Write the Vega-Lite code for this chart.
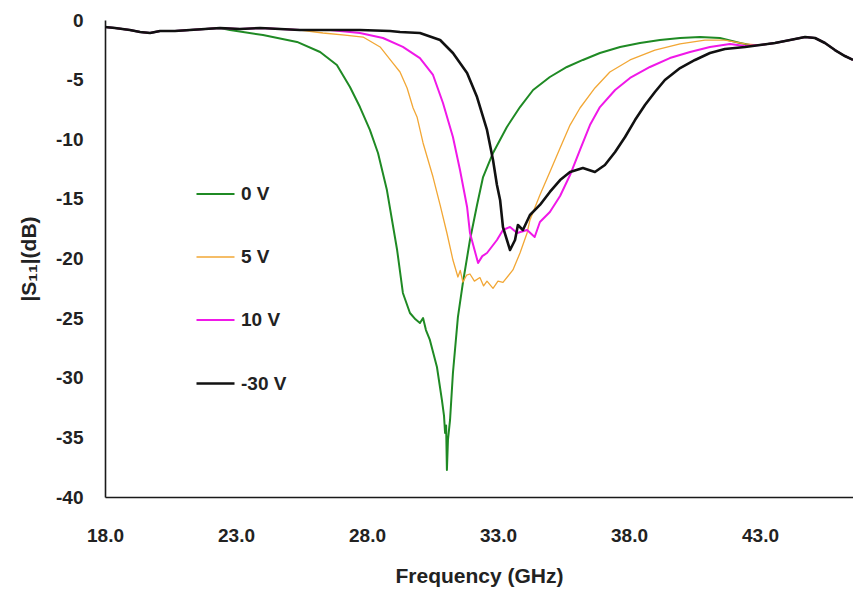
{
  "$schema": "https://vega.github.io/schema/vega-lite/v6.json",
  "width": 748,
  "height": 477,
  "autosize": {"type": "none"},
  "padding": {"left": 105, "top": 20, "right": 0, "bottom": 92},
  "background": "white",
  "config": {
    "view": {"stroke": null},
    "font": "Liberation Sans",
    "axis": {
      "domainColor": "#1a1a1a",
      "domainWidth": 1.6,
      "grid": false,
      "ticks": false,
      "tickSize": 0,
      "labelFlush": false,
      "labelFont": "Liberation Sans",
      "labelFontSize": 19,
      "labelFontWeight": "bold",
      "labelColor": "#222",
      "titleFont": "Liberation Sans",
      "titleFontSize": 21,
      "titleFontWeight": "bold",
      "titleColor": "#222"
    },
    "legend": {
      "labelFont": "Liberation Sans",
      "labelFontSize": 19,
      "labelFontWeight": "bold",
      "labelColor": "#222"
    }
  },
  "datasets": {
    "curves": [
      {"series": "0 V", "freq": 18.00, "s11": -0.59},
      {"series": "0 V", "freq": 18.38, "s11": -0.67},
      {"series": "0 V", "freq": 18.95, "s11": -0.84},
      {"series": "0 V", "freq": 19.34, "s11": -1.01},
      {"series": "0 V", "freq": 19.72, "s11": -1.09},
      {"series": "0 V", "freq": 20.10, "s11": -0.92},
      {"series": "0 V", "freq": 20.67, "s11": -0.92},
      {"series": "0 V", "freq": 21.24, "s11": -0.84},
      {"series": "0 V", "freq": 21.82, "s11": -0.75},
      {"series": "0 V", "freq": 22.39, "s11": -0.67},
      {"series": "0 V", "freq": 22.77, "s11": -0.84},
      {"series": "0 V", "freq": 24.03, "s11": -1.26},
      {"series": "0 V", "freq": 25.33, "s11": -1.84},
      {"series": "0 V", "freq": 26.21, "s11": -2.68},
      {"series": "0 V", "freq": 26.85, "s11": -3.77},
      {"series": "0 V", "freq": 27.35, "s11": -5.62},
      {"series": "0 V", "freq": 27.73, "s11": -7.30},
      {"series": "0 V", "freq": 28.11, "s11": -9.22},
      {"series": "0 V", "freq": 28.42, "s11": -11.15},
      {"series": "0 V", "freq": 28.76, "s11": -14.26},
      {"series": "0 V", "freq": 29.15, "s11": -19.29},
      {"series": "0 V", "freq": 29.37, "s11": -22.89},
      {"series": "0 V", "freq": 29.64, "s11": -24.57},
      {"series": "0 V", "freq": 29.85, "s11": -25.1},
      {"series": "0 V", "freq": 30.02, "s11": -25.41},
      {"series": "0 V", "freq": 30.14, "s11": -24.99},
      {"series": "0 V", "freq": 30.25, "s11": -26.0},
      {"series": "0 V", "freq": 30.40, "s11": -26.83},
      {"series": "0 V", "freq": 30.67, "s11": -29.10},
      {"series": "0 V", "freq": 30.86, "s11": -31.87},
      {"series": "0 V", "freq": 30.94, "s11": -33.2},
      {"series": "0 V", "freq": 30.98, "s11": -34.63},
      {"series": "0 V", "freq": 31.02, "s11": -34.0},
      {"series": "0 V", "freq": 31.05, "s11": -37.74},
      {"series": "0 V", "freq": 31.09, "s11": -35.22},
      {"series": "0 V", "freq": 31.17, "s11": -33.54},
      {"series": "0 V", "freq": 31.28, "s11": -29.60},
      {"series": "0 V", "freq": 31.47, "s11": -24.91},
      {"series": "0 V", "freq": 31.66, "s11": -22.05},
      {"series": "0 V", "freq": 31.93, "s11": -18.45},
      {"series": "0 V", "freq": 32.20, "s11": -15.51},
      {"series": "0 V", "freq": 32.43, "s11": -13.17},
      {"series": "0 V", "freq": 32.81, "s11": -11.15},
      {"series": "0 V", "freq": 33.34, "s11": -8.97},
      {"series": "0 V", "freq": 33.84, "s11": -7.30},
      {"series": "0 V", "freq": 34.34, "s11": -5.87},
      {"series": "0 V", "freq": 34.98, "s11": -4.78},
      {"series": "0 V", "freq": 35.63, "s11": -3.94},
      {"series": "0 V", "freq": 36.24, "s11": -3.35},
      {"series": "0 V", "freq": 36.89, "s11": -2.77},
      {"series": "0 V", "freq": 37.66, "s11": -2.26},
      {"series": "0 V", "freq": 38.42, "s11": -1.93},
      {"series": "0 V", "freq": 39.18, "s11": -1.68},
      {"series": "0 V", "freq": 39.95, "s11": -1.51},
      {"series": "0 V", "freq": 40.71, "s11": -1.43},
      {"series": "0 V", "freq": 41.47, "s11": -1.51},
      {"series": "0 V", "freq": 42.24, "s11": -1.93},
      {"series": "0 V", "freq": 42.62, "s11": -2.10},
      {"series": "0 V", "freq": 43.00, "s11": -2.10},
      {"series": "0 V", "freq": 43.57, "s11": -1.93},
      {"series": "0 V", "freq": 44.15, "s11": -1.68},
      {"series": "0 V", "freq": 44.72, "s11": -1.43},
      {"series": "0 V", "freq": 45.10, "s11": -1.51},
      {"series": "0 V", "freq": 45.48, "s11": -1.93},
      {"series": "0 V", "freq": 45.86, "s11": -2.52},
      {"series": "0 V", "freq": 46.24, "s11": -3.02},
      {"series": "0 V", "freq": 46.55, "s11": -3.35},

      {"series": "5 V", "freq": 18.00, "s11": -0.59},
      {"series": "5 V", "freq": 18.38, "s11": -0.67},
      {"series": "5 V", "freq": 18.95, "s11": -0.84},
      {"series": "5 V", "freq": 19.34, "s11": -1.01},
      {"series": "5 V", "freq": 19.72, "s11": -1.09},
      {"series": "5 V", "freq": 20.10, "s11": -0.92},
      {"series": "5 V", "freq": 20.67, "s11": -0.92},
      {"series": "5 V", "freq": 21.24, "s11": -0.84},
      {"series": "5 V", "freq": 21.82, "s11": -0.75},
      {"series": "5 V", "freq": 22.39, "s11": -0.67},
      {"series": "5 V", "freq": 23.15, "s11": -0.75},
      {"series": "5 V", "freq": 23.92, "s11": -0.67},
      {"series": "5 V", "freq": 24.68, "s11": -0.75},
      {"series": "5 V", "freq": 25.44, "s11": -0.84},
      {"series": "5 V", "freq": 26.32, "s11": -1.09},
      {"series": "5 V", "freq": 27.16, "s11": -1.26},
      {"series": "5 V", "freq": 27.85, "s11": -1.43},
      {"series": "5 V", "freq": 28.50, "s11": -2.26},
      {"series": "5 V", "freq": 28.99, "s11": -3.61},
      {"series": "5 V", "freq": 29.26, "s11": -4.36},
      {"series": "5 V", "freq": 29.53, "s11": -5.70},
      {"series": "5 V", "freq": 29.76, "s11": -7.38},
      {"series": "5 V", "freq": 29.91, "s11": -8.13},
      {"series": "5 V", "freq": 30.14, "s11": -10.31},
      {"series": "5 V", "freq": 30.52, "s11": -13.17},
      {"series": "5 V", "freq": 30.79, "s11": -15.51},
      {"series": "5 V", "freq": 31.05, "s11": -17.86},
      {"series": "5 V", "freq": 31.28, "s11": -20.13},
      {"series": "5 V", "freq": 31.47, "s11": -21.55},
      {"series": "5 V", "freq": 31.56, "s11": -21.0},
      {"series": "5 V", "freq": 31.66, "s11": -21.97},
      {"series": "5 V", "freq": 31.80, "s11": -21.4},
      {"series": "5 V", "freq": 31.93, "s11": -21.3},
      {"series": "5 V", "freq": 32.10, "s11": -21.9},
      {"series": "5 V", "freq": 32.31, "s11": -21.6},
      {"series": "5 V", "freq": 32.45, "s11": -22.3},
      {"series": "5 V", "freq": 32.58, "s11": -21.9},
      {"series": "5 V", "freq": 32.81, "s11": -22.5},
      {"series": "5 V", "freq": 33.00, "s11": -21.9},
      {"series": "5 V", "freq": 33.19, "s11": -22.0},
      {"series": "5 V", "freq": 33.57, "s11": -20.96},
      {"series": "5 V", "freq": 33.84, "s11": -19.54},
      {"series": "5 V", "freq": 34.11, "s11": -17.86},
      {"series": "5 V", "freq": 34.22, "s11": -16.77},
      {"series": "5 V", "freq": 34.60, "s11": -14.68},
      {"series": "5 V", "freq": 34.98, "s11": -12.75},
      {"series": "5 V", "freq": 35.37, "s11": -10.73},
      {"series": "5 V", "freq": 35.75, "s11": -8.81},
      {"series": "5 V", "freq": 36.13, "s11": -7.38},
      {"series": "5 V", "freq": 36.70, "s11": -5.70},
      {"series": "5 V", "freq": 37.27, "s11": -4.36},
      {"series": "5 V", "freq": 38.04, "s11": -3.35},
      {"series": "5 V", "freq": 38.99, "s11": -2.52},
      {"series": "5 V", "freq": 39.95, "s11": -2.01},
      {"series": "5 V", "freq": 40.90, "s11": -1.68},
      {"series": "5 V", "freq": 41.66, "s11": -1.68},
      {"series": "5 V", "freq": 42.43, "s11": -2.00},
      {"series": "5 V", "freq": 43.00, "s11": -2.10},
      {"series": "5 V", "freq": 43.57, "s11": -1.93},
      {"series": "5 V", "freq": 44.15, "s11": -1.68},
      {"series": "5 V", "freq": 44.72, "s11": -1.43},
      {"series": "5 V", "freq": 45.10, "s11": -1.51},
      {"series": "5 V", "freq": 45.48, "s11": -1.93},
      {"series": "5 V", "freq": 45.86, "s11": -2.52},
      {"series": "5 V", "freq": 46.24, "s11": -3.02},
      {"series": "5 V", "freq": 46.55, "s11": -3.35},

      {"series": "10 V", "freq": 18.00, "s11": -0.59},
      {"series": "10 V", "freq": 18.38, "s11": -0.67},
      {"series": "10 V", "freq": 18.95, "s11": -0.84},
      {"series": "10 V", "freq": 19.34, "s11": -1.01},
      {"series": "10 V", "freq": 19.72, "s11": -1.09},
      {"series": "10 V", "freq": 20.10, "s11": -0.92},
      {"series": "10 V", "freq": 20.67, "s11": -0.92},
      {"series": "10 V", "freq": 21.24, "s11": -0.84},
      {"series": "10 V", "freq": 21.82, "s11": -0.75},
      {"series": "10 V", "freq": 22.39, "s11": -0.67},
      {"series": "10 V", "freq": 23.15, "s11": -0.75},
      {"series": "10 V", "freq": 23.92, "s11": -0.67},
      {"series": "10 V", "freq": 24.68, "s11": -0.75},
      {"series": "10 V", "freq": 25.44, "s11": -0.84},
      {"series": "10 V", "freq": 26.59, "s11": -0.84},
      {"series": "10 V", "freq": 27.73, "s11": -1.09},
      {"series": "10 V", "freq": 28.61, "s11": -1.51},
      {"series": "10 V", "freq": 29.37, "s11": -2.26},
      {"series": "10 V", "freq": 30.02, "s11": -3.19},
      {"series": "10 V", "freq": 30.52, "s11": -4.61},
      {"series": "10 V", "freq": 30.90, "s11": -6.96},
      {"series": "10 V", "freq": 31.28, "s11": -9.81},
      {"series": "10 V", "freq": 31.55, "s11": -12.58},
      {"series": "10 V", "freq": 31.82, "s11": -15.68},
      {"series": "10 V", "freq": 31.93, "s11": -17.86},
      {"series": "10 V", "freq": 32.24, "s11": -20.38},
      {"series": "10 V", "freq": 32.40, "s11": -19.8},
      {"series": "10 V", "freq": 32.58, "s11": -19.54},
      {"series": "10 V", "freq": 32.96, "s11": -18.45},
      {"series": "10 V", "freq": 33.19, "s11": -17.61},
      {"series": "10 V", "freq": 33.46, "s11": -17.36},
      {"series": "10 V", "freq": 33.73, "s11": -17.86},
      {"series": "10 V", "freq": 34.11, "s11": -17.61},
      {"series": "10 V", "freq": 34.40, "s11": -18.2},
      {"series": "10 V", "freq": 34.60, "s11": -16.94},
      {"series": "10 V", "freq": 34.98, "s11": -16.10},
      {"series": "10 V", "freq": 35.37, "s11": -14.76},
      {"series": "10 V", "freq": 35.75, "s11": -13.00},
      {"series": "10 V", "freq": 36.13, "s11": -10.90},
      {"series": "10 V", "freq": 36.51, "s11": -8.81},
      {"series": "10 V", "freq": 36.89, "s11": -7.30},
      {"series": "10 V", "freq": 37.47, "s11": -5.87},
      {"series": "10 V", "freq": 38.04, "s11": -4.86},
      {"series": "10 V", "freq": 38.80, "s11": -3.94},
      {"series": "10 V", "freq": 39.56, "s11": -3.19},
      {"series": "10 V", "freq": 40.33, "s11": -2.68},
      {"series": "10 V", "freq": 41.09, "s11": -2.26},
      {"series": "10 V", "freq": 41.85, "s11": -2.01},
      {"series": "10 V", "freq": 42.43, "s11": -2.18},
      {"series": "10 V", "freq": 43.00, "s11": -2.10},
      {"series": "10 V", "freq": 43.57, "s11": -1.93},
      {"series": "10 V", "freq": 44.15, "s11": -1.68},
      {"series": "10 V", "freq": 44.72, "s11": -1.43},
      {"series": "10 V", "freq": 45.10, "s11": -1.51},
      {"series": "10 V", "freq": 45.48, "s11": -1.93},
      {"series": "10 V", "freq": 45.86, "s11": -2.52},
      {"series": "10 V", "freq": 46.24, "s11": -3.02},
      {"series": "10 V", "freq": 46.55, "s11": -3.35},

      {"series": "-30 V", "freq": 18.00, "s11": -0.59},
      {"series": "-30 V", "freq": 18.38, "s11": -0.67},
      {"series": "-30 V", "freq": 18.95, "s11": -0.84},
      {"series": "-30 V", "freq": 19.34, "s11": -1.01},
      {"series": "-30 V", "freq": 19.72, "s11": -1.09},
      {"series": "-30 V", "freq": 20.10, "s11": -0.92},
      {"series": "-30 V", "freq": 20.67, "s11": -0.92},
      {"series": "-30 V", "freq": 21.24, "s11": -0.84},
      {"series": "-30 V", "freq": 21.82, "s11": -0.75},
      {"series": "-30 V", "freq": 22.39, "s11": -0.67},
      {"series": "-30 V", "freq": 23.15, "s11": -0.75},
      {"series": "-30 V", "freq": 23.92, "s11": -0.67},
      {"series": "-30 V", "freq": 24.68, "s11": -0.75},
      {"series": "-30 V", "freq": 25.44, "s11": -0.84},
      {"series": "-30 V", "freq": 26.59, "s11": -0.84},
      {"series": "-30 V", "freq": 27.73, "s11": -0.84},
      {"series": "-30 V", "freq": 28.88, "s11": -0.92},
      {"series": "-30 V", "freq": 29.26, "s11": -1.01},
      {"series": "-30 V", "freq": 30.02, "s11": -1.09},
      {"series": "-30 V", "freq": 30.79, "s11": -1.68},
      {"series": "-30 V", "freq": 31.28, "s11": -2.77},
      {"series": "-30 V", "freq": 31.82, "s11": -4.44},
      {"series": "-30 V", "freq": 32.20, "s11": -6.46},
      {"series": "-30 V", "freq": 32.58, "s11": -9.22},
      {"series": "-30 V", "freq": 32.81, "s11": -11.74},
      {"series": "-30 V", "freq": 32.96, "s11": -13.84},
      {"series": "-30 V", "freq": 33.08, "s11": -15.09},
      {"series": "-30 V", "freq": 33.19, "s11": -17.36},
      {"series": "-30 V", "freq": 33.46, "s11": -19.29},
      {"series": "-30 V", "freq": 33.65, "s11": -18.45},
      {"series": "-30 V", "freq": 33.76, "s11": -17.19},
      {"series": "-30 V", "freq": 33.95, "s11": -17.61},
      {"series": "-30 V", "freq": 34.22, "s11": -16.35},
      {"series": "-30 V", "freq": 34.60, "s11": -15.51},
      {"series": "-30 V", "freq": 34.98, "s11": -14.42},
      {"series": "-30 V", "freq": 35.37, "s11": -13.42},
      {"series": "-30 V", "freq": 35.75, "s11": -12.75},
      {"series": "-30 V", "freq": 36.24, "s11": -12.41},
      {"series": "-30 V", "freq": 36.70, "s11": -12.75},
      {"series": "-30 V", "freq": 37.08, "s11": -12.16},
      {"series": "-30 V", "freq": 37.47, "s11": -11.07},
      {"series": "-30 V", "freq": 37.85, "s11": -9.81},
      {"series": "-30 V", "freq": 38.23, "s11": -8.39},
      {"series": "-30 V", "freq": 38.61, "s11": -7.13},
      {"series": "-30 V", "freq": 38.99, "s11": -6.04},
      {"series": "-30 V", "freq": 39.37, "s11": -5.03},
      {"series": "-30 V", "freq": 39.95, "s11": -4.03},
      {"series": "-30 V", "freq": 40.52, "s11": -3.35},
      {"series": "-30 V", "freq": 41.09, "s11": -2.77},
      {"series": "-30 V", "freq": 41.66, "s11": -2.43},
      {"series": "-30 V", "freq": 42.43, "s11": -2.26},
      {"series": "-30 V", "freq": 43.00, "s11": -2.10},
      {"series": "-30 V", "freq": 43.57, "s11": -1.93},
      {"series": "-30 V", "freq": 44.15, "s11": -1.68},
      {"series": "-30 V", "freq": 44.72, "s11": -1.43},
      {"series": "-30 V", "freq": 45.10, "s11": -1.51},
      {"series": "-30 V", "freq": 45.48, "s11": -1.93},
      {"series": "-30 V", "freq": 45.86, "s11": -2.52},
      {"series": "-30 V", "freq": 46.24, "s11": -3.02},
      {"series": "-30 V", "freq": 46.55, "s11": -3.35}
    ]
  },
  "layer": [
    {
      "mark": {"type": "rule", "color": "#1a1a1a", "strokeWidth": 1.6},
      "encoding": {"y": {"datum": 0, "type": "quantitative"}}
    },
    {
      "data": {"name": "curves"},
      "mark": {"type": "line", "clip": true, "strokeJoin": "round"},
      "encoding": {
        "x": {
          "field": "freq",
          "type": "quantitative",
          "scale": {"domain": [18, 46.55], "nice": false, "zero": false},
          "axis": {
            "values": [18, 23, 28, 33, 38, 43],
            "format": ".1f",
            "labelPadding": 29,
            "titlePadding": 20,
            "title": "Frequency (GHz)"
          }
        },
        "y": {
          "field": "s11",
          "type": "quantitative",
          "scale": {"domain": [-40, 0], "nice": false, "zero": false},
          "axis": {
            "values": [-40, -35, -30, -25, -20, -15, -10, -5, 0],
            "labelExpr": "datum.value + ''",
            "labelPadding": 22,
            "titlePadding": 16,
            "title": "|S₁₁|(dB)"
          }
        },
        "color": {
          "field": "series",
          "type": "nominal",
          "scale": {
            "domain": ["0 V", "5 V", "10 V", "-30 V"],
            "range": ["#1f8a24", "#f2a735", "#f018e8", "#111111"]
          },
          "legend": {
            "title": null,
            "orient": "none",
            "legendX": 90,
            "legendY": 154,
            "symbolType": "stroke",
            "symbolSize": 1444,
            "symbolStrokeWidth": 2.5,
            "labelOffset": 5,
            "rowPadding": 33
          }
        },
        "strokeWidth": {
          "field": "series",
          "type": "nominal",
          "scale": {
            "type": "ordinal",
            "domain": ["0 V", "5 V", "10 V", "-30 V"],
            "range": [2, 1.3, 2, 2.6]
          },
          "legend": null
        },
        "order": {"field": "freq", "type": "quantitative"}
      }
    }
  ]
}
